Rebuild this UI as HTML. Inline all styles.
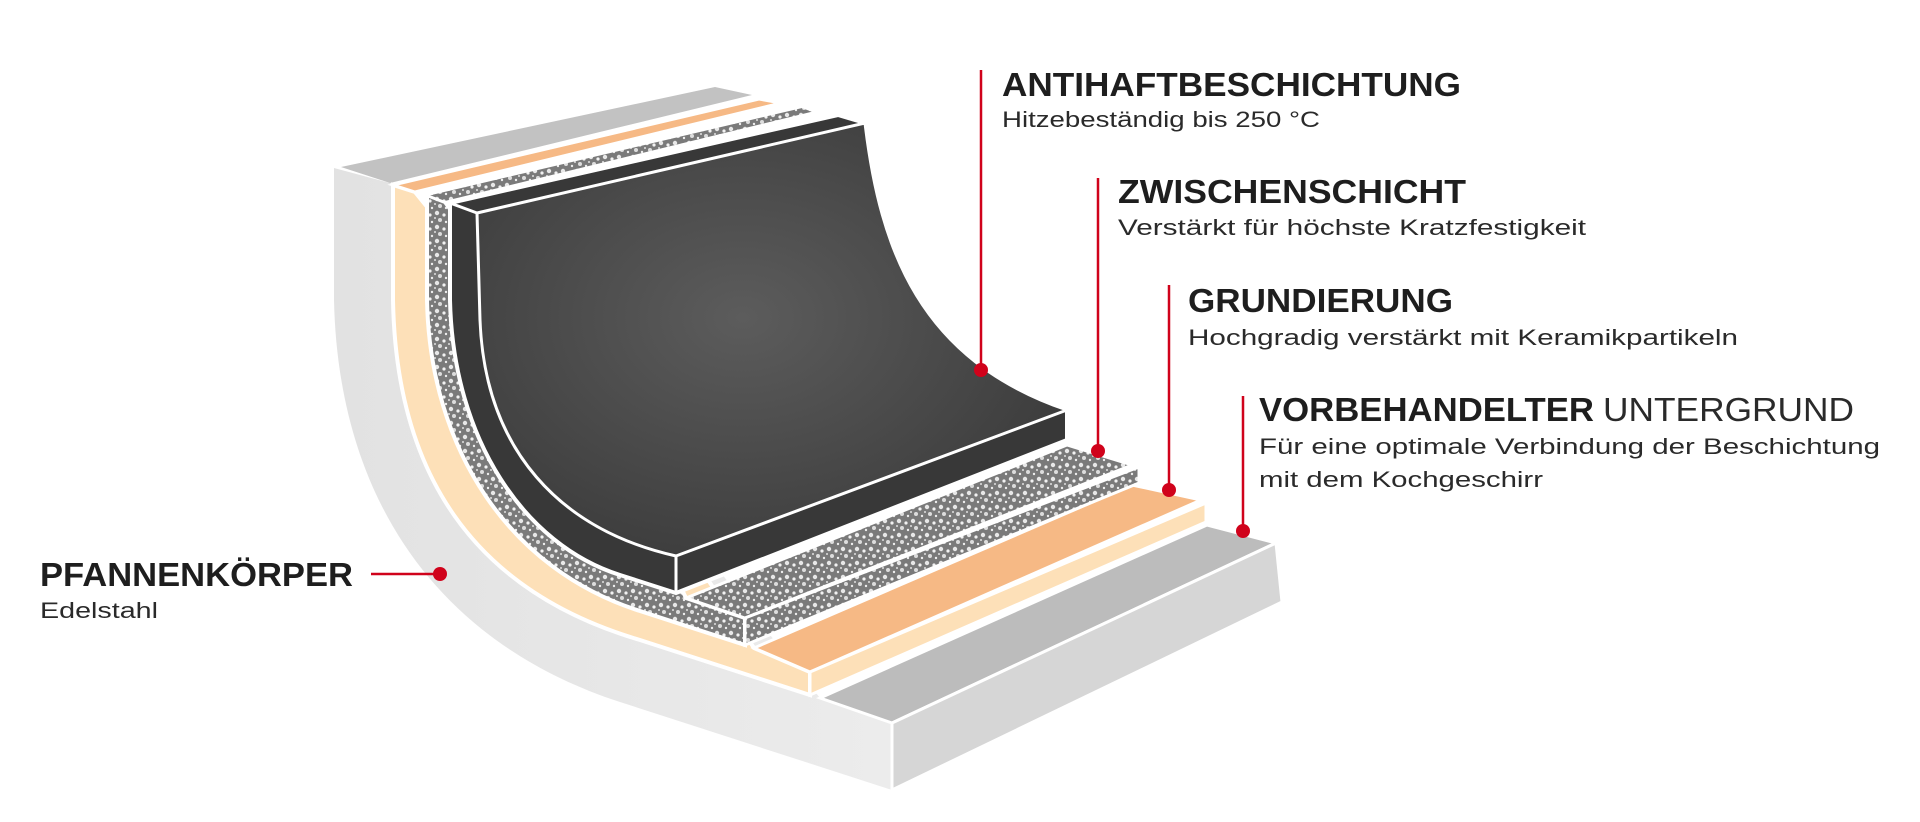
<!DOCTYPE html>
<html><head><meta charset="utf-8"><style>
html,body{margin:0;padding:0;background:#fff;}
svg{display:block;}
.t{font-family:"Liberation Sans",sans-serif;font-weight:bold;fill:#1e1e1e;}
.s{font-family:"Liberation Sans",sans-serif;fill:#2a2a2a;}
</style></head><body>
<svg width="1920" height="822" viewBox="0 0 1920 822" xmlns="http://www.w3.org/2000/svg">
<defs>
<pattern id="sp" width="14" height="14" patternUnits="userSpaceOnUse">
<rect width="14" height="14" fill="#7a7a7a"/>
<circle cx="3" cy="3" r="2.2" fill="#e8e8e8"/><circle cx="10" cy="5" r="1.6" fill="#f2f2f2"/>
<circle cx="6" cy="10" r="2" fill="#dddddd"/><circle cx="12" cy="12" r="1.2" fill="#eeeeee"/>
<circle cx="1" cy="8" r="1" fill="#e0e0e0"/>
</pattern>
<radialGradient id="dk" cx="0.45" cy="0.45" r="0.6"><stop offset="0" stop-color="#5c5c5c"/><stop offset="1" stop-color="#3c3c3c"/></radialGradient>
<linearGradient id="st" x1="0" y1="0" x2="1" y2="0"><stop offset="0" stop-color="#e2e2e2"/><stop offset="1" stop-color="#ececec"/></linearGradient>
</defs>
<!-- steel -->
<path d="M334,168 L334,300 C338,490 430,640 620,702 L892,790 L892,723 L820,698 L600,420 L390,183 Z" fill="url(#st)"/>
<polygon points="341,167 715,87 752,95 390,183" fill="#c2c2c2"/>
<polygon points="820,698 1207,525 1276,543 892,723" fill="#bcbcbc" stroke="#fff" stroke-width="3"/>
<polygon points="892,723 1276,543 1282,602 892,790" fill="#d6d6d6" stroke="#fff" stroke-width="3"/>
<!-- beige -->
<path d="M393,185 L393,300 C396,470 470,590 640,640 L810,695 L810,672 L754,648 L600,420 L415,192 Z" fill="#fde0b8" stroke="#fff" stroke-width="4"/>
<polygon points="393,185 759,99 781,103 415,192" fill="#f6b985" stroke="#fff" stroke-width="3"/>
<polygon points="754,648 1132,485 1201,500 810,672" fill="#f6b985" stroke="#fff" stroke-width="3"/>
<polygon points="810,672 1206,503 1206,522 810,695" fill="#fde0b8" stroke="#fff" stroke-width="3"/>
<!-- speckle -->
<path d="M427,195 L427,300 C430,450 510,570 640,611 L745,645 L745,618 L686,598 L600,420 L445,202 Z" fill="url(#sp)" stroke="#fff" stroke-width="4"/>
<polygon points="427,195 802,107 815,112 445,202" fill="url(#sp)" stroke="#fff" stroke-width="2"/>
<polygon points="686,598 1067,445 1132,465 745,618" fill="url(#sp)" stroke="#fff" stroke-width="3"/>
<polygon points="745,618 1139,467 1139,483 745,645" fill="url(#sp)" stroke="#fff" stroke-width="3"/>
<!-- dark slab -->
<path d="M450,203 L838,115 L865,123 C880,250 920,360 1067,410 L1067,440 L676,593 L620,575 C525,545 453,440 450,300 Z" fill="#383838" stroke="#fff" stroke-width="4"/>
<path d="M477,213 L865,123 C880,250 920,360 1067,410 L676,556 C560,530 485,450 480,320 Z" fill="url(#dk)" stroke="#fff" stroke-width="3"/>
<line x1="676" y1="556" x2="676" y2="593" stroke="#fff" stroke-width="3"/>
<line x1="450" y1="203" x2="477" y2="213" stroke="#fff" stroke-width="3"/>
<!-- red connectors -->
<g stroke="#d0021b" stroke-width="2.5" fill="none">
<line x1="981" y1="70" x2="981" y2="370"/>
<line x1="1098" y1="178" x2="1098" y2="451"/>
<line x1="1169" y1="285" x2="1169" y2="490"/>
<line x1="1243" y1="396" x2="1243" y2="531"/>
<line x1="371" y1="574" x2="440" y2="574"/>
</g>
<g fill="#d0021b">
<circle cx="981" cy="370" r="7"/><circle cx="1098" cy="451" r="7"/>
<circle cx="1169" cy="490" r="7"/><circle cx="1243" cy="531" r="7"/>
<circle cx="440" cy="574" r="7"/>
</g>
<!-- text -->
<text class="t" x="1002" y="96" font-size="33" textLength="459" lengthAdjust="spacingAndGlyphs">ANTIHAFTBESCHICHTUNG</text>
<text class="s" x="1002" y="127" font-size="22" textLength="318" lengthAdjust="spacingAndGlyphs">Hitzebeständig bis 250 °C</text>
<text class="t" x="1118" y="203" font-size="33" textLength="348" lengthAdjust="spacingAndGlyphs">ZWISCHENSCHICHT</text>
<text class="s" x="1118" y="235" font-size="22" textLength="468" lengthAdjust="spacingAndGlyphs">Verstärkt für höchste Kratzfestigkeit</text>
<text class="t" x="1188" y="312" font-size="33" textLength="265" lengthAdjust="spacingAndGlyphs">GRUNDIERUNG</text>
<text class="s" x="1188" y="345" font-size="22" textLength="550" lengthAdjust="spacingAndGlyphs">Hochgradig verstärkt mit Keramikpartikeln</text>
<text class="t" x="1259" y="421" font-size="33" textLength="335" lengthAdjust="spacingAndGlyphs">VORBEHANDELTER</text>
<text class="s" x="1603" y="421" font-size="33" textLength="251" lengthAdjust="spacingAndGlyphs" fill="#1e1e1e">UNTERGRUND</text>
<text class="s" x="1259" y="454" font-size="22" textLength="621" lengthAdjust="spacingAndGlyphs">Für eine optimale Verbindung der Beschichtung</text>
<text class="s" x="1259" y="487" font-size="22" textLength="284" lengthAdjust="spacingAndGlyphs">mit dem Kochgeschirr</text>
<text class="t" x="40" y="586" font-size="33" textLength="313" lengthAdjust="spacingAndGlyphs">PFANNENKÖRPER</text>
<text class="s" x="40" y="618" font-size="22" textLength="118" lengthAdjust="spacingAndGlyphs">Edelstahl</text>
</svg>
</body></html>
